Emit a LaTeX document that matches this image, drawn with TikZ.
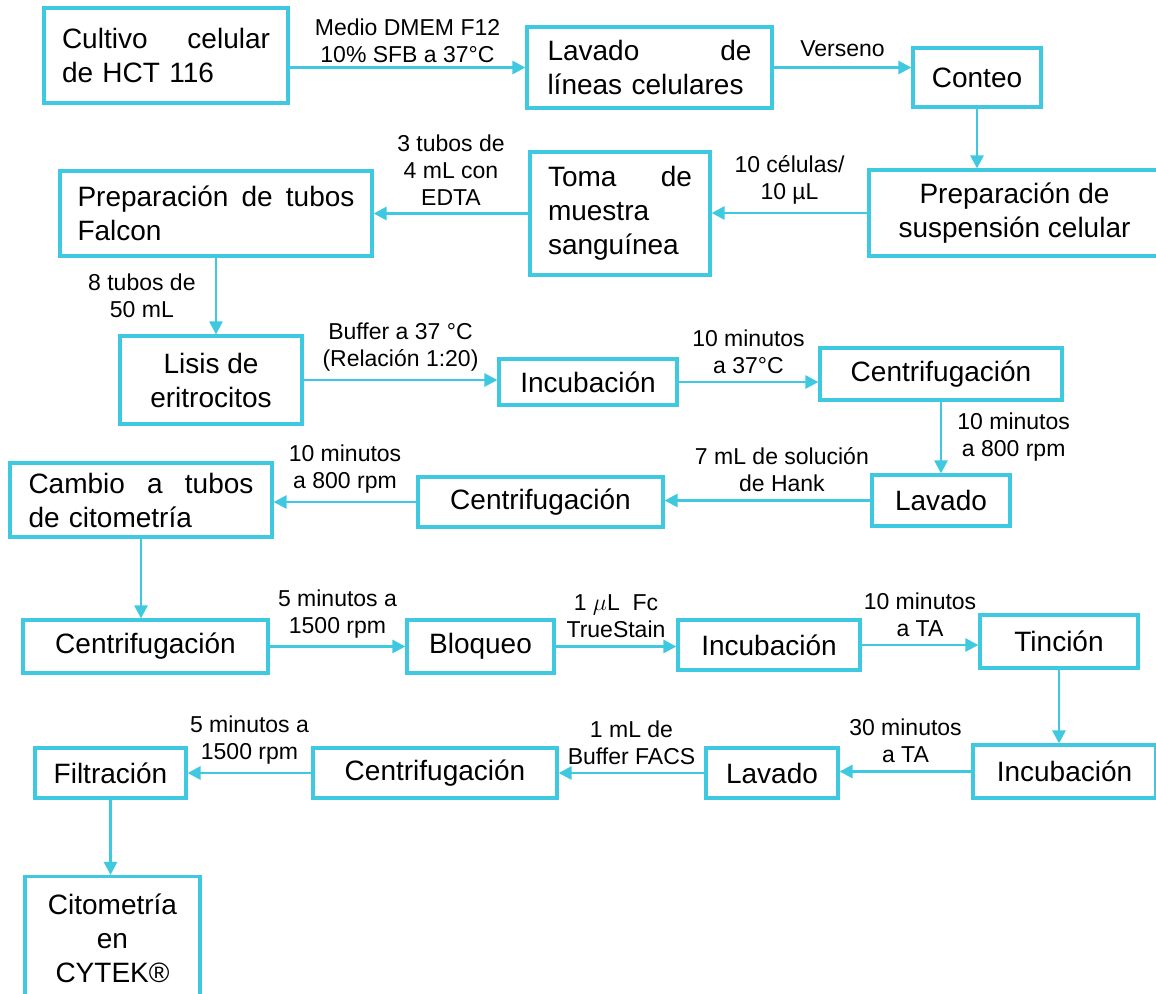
\documentclass[tikz,border=0pt]{standalone}
\usepackage{fontspec}
\setmainfont{Liberation Sans}
\usepackage{tikz}
\usetikzlibrary{arrows.meta,positioning,calc}
\definecolor{flowcyan}{HTML}{3FC9E1}
\tikzset{
  fc/box/.style={
    draw=flowcyan, line width=1.6pt, fill=white, align=center,
    inner sep=3pt, font=\fontsize{14}{17}\selectfont
  },
  fc/just/.style={fc/box, align=left},
  fc/lbl/.style={
    text=black, font=\fontsize{11.5}{13.5}\selectfont, align=center, inner sep=1.5pt
  },
  fc/arr/.style={-{Triangle[length=6.5pt,width=6.5pt]}, flowcyan, line width=1.4pt}
}

\begin{document}
\begin{tikzpicture}[x=0.5pt, y=-0.5pt]
  \useasboundingbox (0,0) rectangle (1156,993);
  % fila 1
  \node[fc/just, text width=104pt, minimum width=122pt, minimum height=47.5pt]
    (cultivo) at (166,55.5) {Cultivo\hfill celular\\de HCT 116};
  \node[fc/just, text width=102pt, minimum width=122.5pt, minimum height=40.5pt]
    (lavadoA) at (649.5,67.5) {Lavado\hfill de\\líneas celulares};
  \node[fc/box, minimum width=64pt, minimum height=29.5pt]
    (conteo) at (977,77.5) {Conteo};
  % fila 2
  \node[fc/box, minimum width=145.5pt, minimum height=43pt]
    (suspension) at (1014.5,213) {Preparación de\\suspensión celular};
  \node[fc/just, text width=72pt, minimum width=90pt, minimum height=61.5pt]
    (toma) at (620,213.5) {Toma\hfill de\\muestra\\sanguínea};
  \node[fc/just, text width=138.5pt, minimum width=156pt, minimum height=42.5pt]
    (falcon) at (216,213.5) {Preparación\hfill de\hfill tubos\\Falcon};
  % fila 3
  \node[fc/box, minimum width=91pt, minimum height=44pt]
    (lisis) at (211,380) {Lisis de\\eritrocitos};
  \node[fc/box, minimum width=89pt, minimum height=23pt]
    (incubA) at (588,382) {Incubación};
  \node[fc/box, minimum width=121pt, minimum height=26pt]
    (centriA) at (941,374) {Centrifugación};
  % fila 4
  \node[fc/box, minimum width=69pt, minimum height=25.5pt]
    (lavadoB) at (941,500.5) {Lavado};
  \node[fc/box, minimum width=122.5pt, minimum height=25pt]
    (centriB) at (540.5,502) {Centrifugación};
  \node[fc/just, text width=112.5pt, minimum width=131pt, minimum height=37pt]
    (cambio) at (141,500) {Cambio\hfill a\hfill tubos\\de citometría};
  % fila 5
  \node[fc/box, minimum width=122.5pt, minimum height=26.5pt]
    (centriC) at (145.5,646.5) {Centrifugación};
  \node[fc/box, minimum width=73.5pt, minimum height=26.5pt]
    (bloqueo) at (480.5,646.5) {Bloqueo};
  \node[fc/box, minimum width=91pt, minimum height=25pt]
    (incubB) at (769,645) {Incubación};
  \node[fc/box, minimum width=79pt, minimum height=26.5pt]
    (tincion) at (1059,641.5) {Tinción};
  % fila 6
  \node[fc/box, minimum width=91.5pt, minimum height=26.5pt]
    (incubC) at (1064.5,771.5) {Incubación};
  \node[fc/box, minimum width=66pt, minimum height=25pt]
    (lavadoC) at (772,773) {Lavado};
  \node[fc/box, minimum width=122pt, minimum height=25pt]
    (centriD) at (435,773) {Centrifugación};
  \node[fc/box, minimum width=75.5pt, minimum height=25pt]
    (filtro) at (110.5,773) {Filtración};
  \node[fc/box, minimum width=87.5pt, minimum height=61.5pt]
    (cytek) at (112.5,938) {Citometría\\en\\CYTEK®};

  % conectores
  \draw[fc/arr] (cultivo.east |- lavadoA.west) -- node[fc/lbl, above] (lb1)
    {Medio DMEM F12\\10\% SFB a 37°C} (lavadoA.west);
  \draw[fc/arr] (lavadoA.east) -- node[fc/lbl, above=3pt] (lb2)
    {Verseno} (lavadoA.east -| conteo.west);
  \draw[fc/arr] (conteo.south) -- (conteo.south |- suspension.north);
  \draw[fc/arr] (suspension.west) -- node[fc/lbl, above=2pt] (lb3)
    {10 células/\\10 µL} (suspension.west -| toma.east);
  \draw[fc/arr] (toma.west) -- node[fc/lbl, above=2pt] (lb4)
    {3 tubos de\\4 mL con\\EDTA} (toma.west -| falcon.east);
  \draw[fc/arr] (falcon.south) -- node[fc/lbl, left=8pt] (lb5)
    {8 tubos de\\50 mL} (falcon.south |- lisis.north);
  \draw[fc/arr] (lisis.east) -- node[fc/lbl, above=2pt] (lb6)
    {Buffer a 37 °C\\(Relación 1:20)} (lisis.east -| incubA.west);
  \draw[fc/arr] (incubA.east) -- node[fc/lbl, above=2pt] (lb7)
    {10 minutos\\a 37°C} (incubA.east -| centriA.west);
  \draw[fc/arr] (centriA.south) -- node[fc/lbl, right=6pt] (lb8)
    {10 minutos\\a 800 rpm} (centriA.south |- lavadoB.north);
  \draw[fc/arr] (lavadoB.west) -- node[fc/lbl, above=2pt, pos=0.43] (lb9)
    {7 mL de solución\\de Hank} (lavadoB.west -| centriB.east);
  \draw[fc/arr] (centriB.west) -- node[fc/lbl, above=2pt] (lb10)
    {10 minutos\\a 800 rpm} (centriB.west -| cambio.east);
  \draw[fc/arr] (cambio.south) -- (cambio.south |- centriC.north);
  \draw[fc/arr] (centriC.east) -- node[fc/lbl, above=2pt] (lb11)
    {5 minutos a\\1500 rpm} (centriC.east -| bloqueo.west);
  \draw[fc/arr] (bloqueo.east) -- node[fc/lbl, above=2pt] (lb12)
    {1 $\mu\mathrm{L}$\ \ Fc\\TrueStain} (bloqueo.east -| incubB.west);
  \draw[fc/arr] (incubB.east) -- node[fc/lbl, above=2pt] (lb13)
    {10 minutos\\a TA} (incubB.east -| tincion.west);
  \draw[fc/arr] (tincion.south) -- (tincion.south |- incubC.north);
  \draw[fc/arr] (incubC.west) -- node[fc/lbl, above=2pt] (lb14)
    {30 minutos\\a TA} (incubC.west -| lavadoC.east);
  \draw[fc/arr] (lavadoC.west) -- node[fc/lbl, above=2pt] (lb15)
    {1 mL de\\Buffer FACS} (lavadoC.west -| centriD.east);
  \draw[fc/arr] (centriD.west) -- node[fc/lbl, above=2pt] (lb16)
    {5 minutos a\\1500 rpm} (centriD.west -| filtro.east);
  \draw[fc/arr] (filtro.south) -- (filtro.south |- cytek.north);
\end{tikzpicture}
\end{document}
